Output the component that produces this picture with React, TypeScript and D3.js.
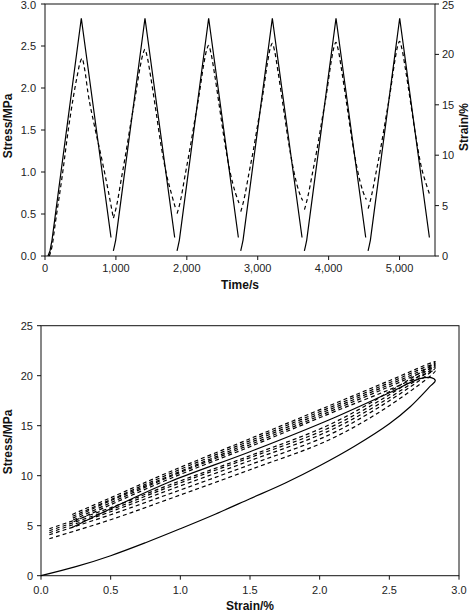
import React from 'react';
import * as d3 from 'd3';

// ---------- Top chart data (time series) ----------
const timeTicks = [0, 1000, 2000, 3000, 4000, 5000];
const leftTicksTop = [0, 0.5, 1.0, 1.5, 2.0, 2.5, 3.0];
const rightTicksTop = [0, 5, 10, 15, 20, 25];

// solid line, read against the left axis
const solidCycles: [number, number][][] = [
  [[42, 0], [70, 0.06], [99, 0.19], [512, 2.83], [931, 0.22]],
  [[964, 0.06], [980, 0.12], [997, 0.19], [1410, 2.83], [1829, 0.22]],
  [[1862, 0.06], [1878, 0.12], [1895, 0.19], [2308, 2.83], [2727, 0.22]],
  [[2760, 0.06], [2776, 0.12], [2793, 0.19], [3206, 2.83], [3625, 0.22]],
  [[3658, 0.06], [3674, 0.12], [3691, 0.19], [4104, 2.83], [4523, 0.22]],
  [[4556, 0.06], [4572, 0.12], [4589, 0.19], [5002, 2.83], [5421, 0.22]],
];

// dashed line, read against the right axis
const dashedCycles: [number, number][][] = [
  [[61, 0], [100, 1.0], [145, 3.25], [240, 7.8], [334, 12.8], [451, 17.75], [495, 19.2], [522, 19.6], [560, 18.5], [606, 16.2], [701, 12.8], [804, 9.5], [898, 6.25], [960, 3.9]],
  [[965, 3.75], [1010, 5.0], [1080, 7.8], [1140, 10.2], [1210, 13.2], [1280, 16.1], [1340, 18.7], [1380, 20.0], [1410, 20.5], [1440, 19.8], [1490, 17.8], [1560, 14.6], [1636, 11.0], [1710, 8.2], [1790, 6.0], [1838, 4.8]],
  [[1863, 4.2], [1908, 5.4], [1978, 8.1], [2038, 10.4], [2108, 13.3], [2178, 16.2], [2238, 19.0], [2278, 20.4], [2308, 20.9], [2338, 20.2], [2388, 18.2], [2458, 14.9], [2534, 11.3], [2608, 8.4], [2688, 6.2], [2736, 5.25]],
  [[2761, 4.4], [2806, 5.6], [2876, 8.2], [2936, 10.4], [3006, 13.3], [3076, 16.2], [3136, 19.1], [3176, 20.6], [3206, 21.1], [3236, 20.4], [3286, 18.3], [3356, 15.0], [3432, 11.4], [3506, 8.5], [3586, 6.3], [3634, 5.5]],
  [[3659, 4.6], [3704, 5.8], [3774, 8.3], [3834, 10.5], [3904, 13.4], [3974, 16.3], [4034, 19.2], [4074, 20.7], [4104, 21.2], [4134, 20.5], [4184, 18.4], [4254, 15.1], [4330, 11.5], [4404, 8.6], [4484, 6.4], [4532, 5.6]],
  [[4557, 4.7], [4602, 5.9], [4672, 8.4], [4732, 10.6], [4802, 13.5], [4872, 16.4], [4932, 19.3], [4972, 20.8], [5002, 21.3], [5032, 20.6], [5082, 18.6], [5152, 15.4], [5228, 11.9], [5302, 9.0], [5382, 7.0], [5420, 6.2]],
];

// ---------- Bottom chart data (hysteresis loops) ----------
const strainTicks = [0, 0.5, 1.0, 1.5, 2.0, 2.5, 3.0];
const stressTicks = [0, 5, 10, 15, 20, 25];

const firstLoopStrain = [0, 0.25, 0.5, 0.75, 1.0, 1.25, 1.5, 1.75, 2.0, 2.25, 2.5, 2.65, 2.79, 2.83, 2.8, 2.72, 2.5, 2.07, 1.5, 0.925, 0.5, 0.22];
const firstLoopStress = [0, 0.9, 2.0, 3.3, 4.7, 6.15, 7.7, 9.25, 11.0, 12.95, 15.2, 16.9, 18.9, 19.5, 19.8, 19.7, 18.3, 15.6, 12.4, 9.4, 6.7, 4.8];

const loadStrain = [0.06, 0.5, 0.925, 1.5, 2.07, 2.5, 2.83];
const unloadStrain = [2.83, 2.5, 2.07, 1.5, 0.925, 0.5, 0.22];
const loadStress = [
  [3.7, 5.6, 7.7, 10.6, 13.6, 17.0, 20.5],
  [4.1, 6.1, 8.2, 11.1, 14.1, 17.5, 20.8],
  [4.3, 6.4, 8.6, 11.5, 14.5, 17.8, 21.0],
  [4.5, 6.6, 8.9, 11.8, 14.8, 18.1, 21.2],
  [4.7, 6.8, 9.1, 12.0, 15.1, 18.4, 21.4],
];
const unloadStress = [
  [20.5, 18.6, 16.2, 12.9, 9.7, 7.1, 5.3],
  [20.8, 18.9, 16.4, 13.1, 9.9, 7.3, 5.5],
  [21.0, 19.1, 16.6, 13.3, 10.0, 7.5, 5.7],
  [21.2, 19.3, 16.8, 13.5, 10.2, 7.6, 5.9],
  [21.4, 19.5, 17.0, 13.7, 10.4, 7.8, 6.1],
];

const FONT = "'Liberation Sans', Arial, sans-serif";
const INK = '#111';

export default function App() {
  // top chart scales
  const tx = d3.scaleLinear().domain([0, 5500]).range([45, 435]);
  const tyL = d3.scaleLinear().domain([0, 3]).range([256, 4]);
  const tyR = d3.scaleLinear().domain([0, 25]).range([256, 4]);
  const solidLine = d3.line<[number, number]>().x(d => tx(d[0])).y(d => tyL(d[1])).curve(d3.curveLinear);
  const dashLine = d3.line<[number, number]>().x(d => tx(d[0])).y(d => tyR(d[1])).curve(d3.curveMonotoneX);

  // bottom chart scales
  const bx = d3.scaleLinear().domain([0, 3]).range([41, 459]);
  const by = d3.scaleLinear().domain([0, 25]).range([575.7, 325.7]);
  const loopLine = d3.line<[number, number]>().x(d => bx(d[0])).y(d => by(d[1])).curve(d3.curveCatmullRom.alpha(0.5));

  const firstLoop: [number, number][] = firstLoopStrain.map((s, i) => [s, firstLoopStress[i]]);
  const dashedLoops: [number, number][][] = loadStress.map((ls, k) => {
    const a: [number, number][] = loadStrain.map((s, i) => [s, ls[i]]);
    const b: [number, number][] = unloadStrain.slice(1).map((s, i) => [s, unloadStress[k][i + 1]]);
    return a.concat(b);
  });

  const fmtTime = d3.format(',');
  const tickText = { fontFamily: FONT, fontSize: 11, fill: '#222' } as const;
  const titleText = { fontFamily: FONT, fontSize: 12, fontWeight: 700, fill: '#111' } as const;

  return (
    <svg width={472} height={613} style={{ position: 'absolute', left: 0, top: 0, background: '#fff' }}>
      {/* ===== TOP CHART ===== */}
      <g>
        <rect x={45} y={4} width={390} height={252} fill="none" stroke={INK} strokeWidth={1} />
        {leftTicksTop.map(v => (
          <g key={'lt' + v}>
            <line x1={41} x2={45} y1={tyL(v)} y2={tyL(v)} stroke={INK} />
            <text x={36} y={Math.max(tyL(v) + 4, 9)} textAnchor="end" {...tickText}>{v.toFixed(1)}</text>
          </g>
        ))}
        {rightTicksTop.map(v => (
          <g key={'rt' + v}>
            <line x1={435} x2={439} y1={tyR(v)} y2={tyR(v)} stroke={INK} />
            <text x={442} y={Math.max(tyR(v) + 4, 9)} textAnchor="start" {...tickText}>{v}</text>
          </g>
        ))}
        {timeTicks.map(v => (
          <g key={'xt' + v}>
            <line x1={tx(v)} x2={tx(v)} y1={256} y2={260} stroke={INK} />
            <text x={tx(v)} y={272} textAnchor="middle" {...tickText}>{fmtTime(v)}</text>
          </g>
        ))}
        {solidCycles.map((c, i) => (
          <path key={'s' + i} d={solidLine(c) || ''} fill="none" stroke="#000" strokeWidth={1.2} />
        ))}
        {dashedCycles.map((c, i) => (
          <path key={'d' + i} d={dashLine(c) || ''} fill="none" stroke="#000" strokeWidth={1.2} strokeDasharray="4,3" />
        ))}
        <text x={240} y={289} textAnchor="middle" {...titleText}>Time/s</text>
        <text transform="translate(12,126) rotate(-90)" textAnchor="middle" {...titleText}>Stress/MPa</text>
        <text transform="translate(468,127) rotate(-90)" textAnchor="middle" {...titleText}>Strain/%</text>
      </g>

      {/* ===== BOTTOM CHART ===== */}
      <g>
        <rect x={41} y={325.7} width={418} height={250} fill="none" stroke={INK} strokeWidth={1} />
        {stressTicks.map(v => (
          <g key={'by' + v}>
            <line x1={37} x2={41} y1={by(v)} y2={by(v)} stroke={INK} />
            <text x={33} y={by(v) + 4} textAnchor="end" {...tickText}>{v}</text>
          </g>
        ))}
        {strainTicks.map(v => (
          <g key={'bx' + v}>
            <line x1={bx(v)} x2={bx(v)} y1={575.7} y2={579.7} stroke={INK} />
            <text x={bx(v)} y={594} textAnchor="middle" {...tickText}>{v.toFixed(1)}</text>
          </g>
        ))}
        <path d={loopLine(firstLoop) || ''} fill="none" stroke="#000" strokeWidth={1.2} />
        {dashedLoops.map((c, i) => (
          <path key={'bl' + i} d={loopLine(c) || ''} fill="none" stroke="#000" strokeWidth={1.2} strokeDasharray="4,3" />
        ))}
        <text x={250} y={610} textAnchor="middle" {...titleText}>Strain/%</text>
        <text transform="translate(12,442) rotate(-90)" textAnchor="middle" {...titleText}>Stress/MPa</text>
      </g>
    </svg>
  );
}
